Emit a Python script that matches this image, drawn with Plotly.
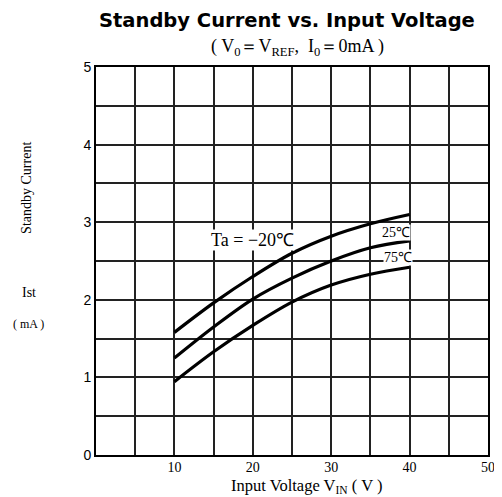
import plotly.graph_objects as go

vin = [10, 15, 20, 25, 30, 35, 40]
ist_m20 = [1.58, 1.96, 2.30, 2.60, 2.82, 2.98, 3.10]
ist_25 = [1.25, 1.65, 2.01, 2.28, 2.50, 2.67, 2.76]
ist_75 = [0.945, 1.33, 1.67, 1.97, 2.19, 2.33, 2.42]
series_names = ["Ta = −20℃", "25℃", "75℃"]
x_ticks = [10, 20, 30, 40, 50]
y_ticks = [0, 1, 2, 3, 4, 5]

fig = go.Figure()
for name, ys in zip(series_names, [ist_m20, ist_25, ist_75]):
    fig.add_trace(go.Scatter(x=vin, y=ys, mode="lines", name=name,
                             line=dict(color="black", width=3.2, shape="spline", smoothing=1.0),
                             showlegend=False))

serif = "Liberation Serif, Times New Roman, serif"
sans = "DejaVu Sans, Arial, sans-serif"

fig.add_annotation(x=19.9, y=2.77, text="Ta = −20℃", showarrow=False,
                   font=dict(family=serif, size=18, color="black"), bgcolor="white", borderpad=0)
fig.add_annotation(x=38.3, y=2.87, text="25℃", showarrow=False,
                   font=dict(family=serif, size=14, color="black"), bgcolor="white", borderpad=0)
fig.add_annotation(x=38.5, y=2.55, text="75℃", showarrow=False,
                   font=dict(family=serif, size=14, color="black"), bgcolor="white", borderpad=0)

fig.add_annotation(xref="paper", yref="paper", x=0.487, y=1.0, yshift=47, yanchor="middle",
                   text="<b>Standby Current vs. Input Voltage</b>", showarrow=False,
                   font=dict(family=sans, size=19.5, color="black"))
fig.add_annotation(xref="paper", yref="paper", x=0.513, y=1.0, yshift=20, yanchor="middle",
                   text="( V<sub>0</sub>＝V<sub>REF</sub>,  I<sub>0</sub>＝0mA )", showarrow=False,
                   font=dict(family=serif, size=18, color="black"))

fig.add_annotation(xref="paper", yref="paper", x=-0.179, y=0.688, xanchor="center", yanchor="middle",
                   text="Standby Current", textangle=-90, showarrow=False,
                   font=dict(family=serif, size=14, color="black"))
fig.add_annotation(xref="paper", yref="paper", x=-0.172, y=0.42, xanchor="center", yanchor="middle",
                   text="Ist", showarrow=False,
                   font=dict(family=serif, size=14, color="black"))
fig.add_annotation(xref="paper", yref="paper", x=-0.172, y=0.338, xanchor="center", yanchor="middle",
                   text="( mA )", showarrow=False,
                   font=dict(family=serif, size=12, color="black"))
fig.add_annotation(xref="paper", yref="paper", x=0.538, y=0, yshift=-31, yanchor="middle",
                   text="Input Voltage V<sub>IN</sub> ( V )", showarrow=False,
                   font=dict(family=serif, size=16.5, color="black"))

fig.update_xaxes(range=[0, 50], tickvals=x_ticks, ticktext=[str(v) for v in x_ticks],
                 showgrid=True, gridcolor="#222", gridwidth=1.5,
                 minor=dict(dtick=5, showgrid=True, gridcolor="#222", gridwidth=1.5),
                 showline=True, linecolor="black", linewidth=2, mirror=True,
                 ticks="", zeroline=False, automargin=False, ticklabelstandoff=-2,
                 tickfont=dict(family=serif, size=14, color="black"))
fig.update_yaxes(range=[0, 5], tickvals=y_ticks, ticktext=[str(v) for v in y_ticks],
                 showgrid=True, gridcolor="#222", gridwidth=1.5,
                 minor=dict(dtick=0.5, showgrid=True, gridcolor="#222", gridwidth=1.5),
                 showline=True, linecolor="black", linewidth=2, mirror=True,
                 ticks="", zeroline=False, automargin=False,
                 tickfont=dict(family="Liberation Sans, Arial, sans-serif", size=14, color="black"))

fig.update_layout(width=494, height=489, margin=dict(l=88, r=14, t=59, b=42),
                  plot_bgcolor="white", paper_bgcolor="white")

fig.write_html("out.html")
